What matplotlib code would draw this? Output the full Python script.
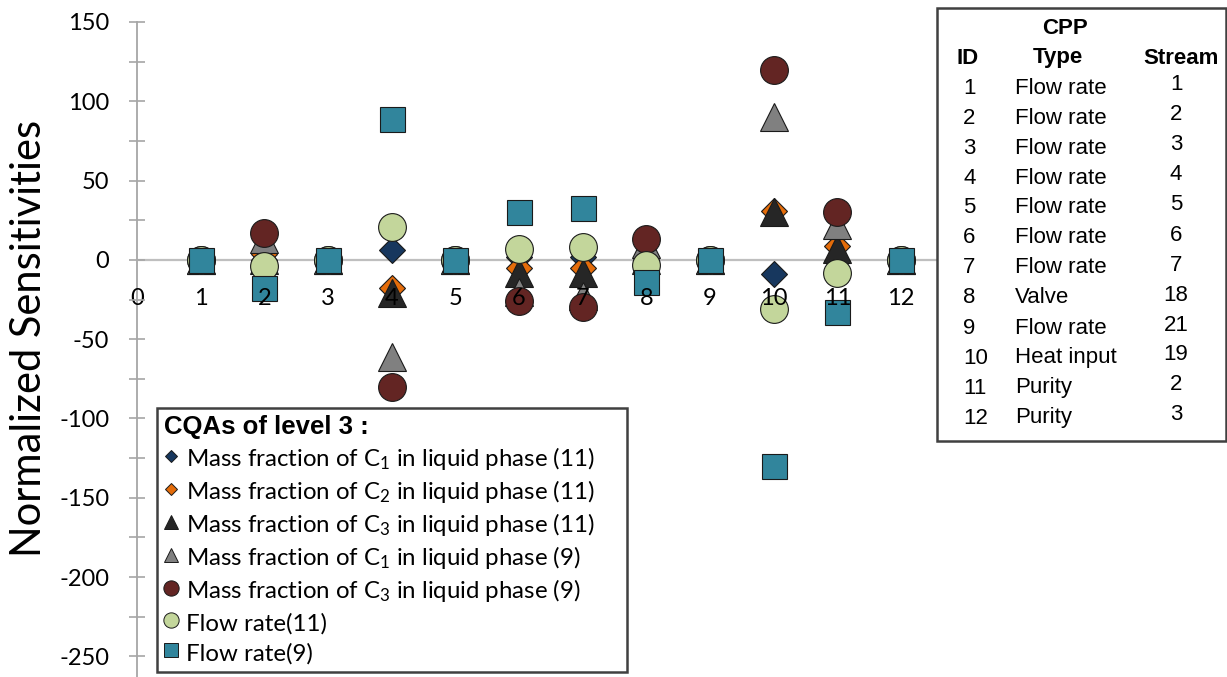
import numpy as np
import matplotlib.pyplot as plt
from matplotlib.lines import Line2D
from matplotlib.patches import Rectangle
from matplotlib.ticker import MultipleLocator

plt.rcParams['font.family'] = ['Lato', 'DejaVu Sans']
plt.rcParams['axes.unicode_minus'] = False

# CPP ids on the x axis
cpp_id = np.arange(1, 13)

# normalized sensitivities
c1_liq_11 = [0, 0, 0, 6, 0, 2, 2, 0, 0, -9, -1, 0]
c2_liq_11 = [0, 4, 0, -18, 0, -5, -5, 0, 0, 31, 9, 0]
c3_liq_11 = [0, 0, 0, -21, 0, -8, -8, 0, 0, 30, 7, 0]
c1_liq_9 = [0, 13, 0, -61, 0, -20, -23, 10, 0, 90, 22, 0]
c3_liq_9 = [0, 17, 0, -80, 0, -26, -30, 13, 0, 120, 30, 0]
flow_11 = [0, -4, 0, 21, 0, 7, 8, -3, 0, -31, -8, 0]
flow_9 = [0, -18, 0, 89, 0, 30, 33, -14, 0, -130, -33, 0]

series_labels = [
    r'Mass fraction of $\mathregular{C_1}$ in liquid phase (11)',
    r'Mass fraction of $\mathregular{C_2}$ in liquid phase (11)',
    r'Mass fraction of $\mathregular{C_3}$ in liquid phase (11)',
    r'Mass fraction of $\mathregular{C_1}$ in liquid phase (9)',
    r'Mass fraction of $\mathregular{C_3}$ in liquid phase (9)',
    'Flow rate(11)',
    'Flow rate(9)',
]

# CPP table on the right
table_type = ['Flow rate', 'Flow rate', 'Flow rate', 'Flow rate', 'Flow rate', 'Flow rate',
              'Flow rate', 'Valve', 'Flow rate', 'Heat input', 'Purity', 'Purity']
table_stream = [1, 2, 3, 4, 5, 6, 7, 18, 21, 19, 2, 3]

W, H = 1227, 677
fig = plt.figure(figsize=(W / 100, H / 100), dpi=100)
ax = fig.add_axes([137 / W, 0, (936 - 137) / W, 1 - 22 / H])

# marker, size (pt), face colour, size in legend
styles = [
    ('D', 13.7, '#17375E', 6),
    ('D', 13.7, '#E46C0A', 6),
    ('^', 20, '#262626', 10),
    ('^', 20, '#808080', 10),
    ('o', 20, '#632523', 11),
    ('o', 20, '#C3D69B', 11),
    ('s', 18, '#31859C', 10),
]
all_series = [c1_liq_11, c2_liq_11, c3_liq_11, c1_liq_9, c3_liq_9, flow_11, flow_9]

handles = []
for vals, (m, ms, col, lms), lab in zip(all_series, styles, series_labels):
    ax.plot(cpp_id, vals, linestyle='none', marker=m, markersize=ms,
            markerfacecolor=col, markeredgecolor='#1a1a1a', markeredgewidth=0.8, zorder=2)
    handles.append(Line2D([], [], linestyle='none', marker=m, markersize=lms,
                          markerfacecolor=col, markeredgecolor='#1a1a1a', markeredgewidth=0.7,
                          label=lab))

ax.set_xlim(0, 12.55)
ax.set_ylim(-263, 150)

# tick labels drawn over the markers, zero line under them
ax.set_axisbelow(False)
for s in ['top', 'right']:
    ax.spines[s].set_visible(False)
ax.spines['bottom'].set_position(('data', 0))
ax.spines['bottom'].set_color('#BFBFBF')
ax.spines['bottom'].set_linewidth(1.6)
ax.spines['bottom'].set_zorder(1)
ax.spines['left'].set_color('#A6A6A6')
ax.spines['left'].set_linewidth(1.3)
ax.spines['left'].set_zorder(1)

ax.set_xticks(range(0, 13))
ax.tick_params(axis='x', length=0, pad=20, labelsize=17)
ax.yaxis.set_major_locator(MultipleLocator(50))
ax.yaxis.set_minor_locator(MultipleLocator(25))
ax.set_yticks(range(-250, 151, 50))
ax.tick_params(axis='y', which='both', direction='inout', length=12, width=1.2,
               color='#A6A6A6', labelsize=17, pad=14)

ax.set_ylabel('Normalized Sensitivities', fontsize=30)
ax.yaxis.set_label_coords((48 - 137) / (936 - 137), (677 - 338) / (677 - 22))

leg = ax.legend(handles=handles, loc='upper left',
                bbox_to_anchor=(157 / W, 1 - 408 / H, (627 - 157) / W, 0), mode='expand',
                bbox_transform=fig.transFigure, borderaxespad=0, frameon=True, fancybox=False,
                framealpha=1, edgecolor='#404040', fontsize=17.3, title='CQAs of level 3 :',
                alignment='left', title_fontproperties={'family': 'Liberation Sans',
                                                        'weight': 'bold', 'size': 18.5},
                handlelength=0.6, handleheight=1.15, handletextpad=0.3, labelspacing=0.25,
                borderpad=0.3)
leg.get_frame().set_linewidth(1.8)

# table of CPPs
fig.patches.append(Rectangle((937 / W, 1 - 441 / H), (1226 - 937) / W, (441 - 8) / H,
                             transform=fig.transFigure, fill=False, edgecolor='#404040',
                             linewidth=1.8))
tfont = dict(family='Liberation Sans', fontsize=16)
fig.text(1065 / W, 1 - 28 / H, 'CPP', ha='center', va='center', fontweight='bold', **tfont)
fig.text(968 / W, 1 - 58 / H, 'ID', ha='center', va='center', fontweight='bold', **tfont)
fig.text(1058 / W, 1 - 58 / H, 'Type', ha='center', va='center', fontweight='bold', **tfont)
fig.text(1181 / W, 1 - 58 / H, 'Stream', ha='center', va='center', fontweight='bold', **tfont)
for i, (cid, ctype, cstr) in enumerate(zip(cpp_id, table_type, table_stream)):
    y = 88 + 30 * i
    fig.text(963 / W, 1 - y / H, str(cid), ha='left', va='center', **tfont)
    fig.text(1015 / W, 1 - y / H, ctype, ha='left', va='center', **tfont)
    fig.text(1176 / W, 1 - (y - 3) / H, str(cstr), ha='center', va='center', **tfont)

fig.savefig('out.png', dpi=100)
